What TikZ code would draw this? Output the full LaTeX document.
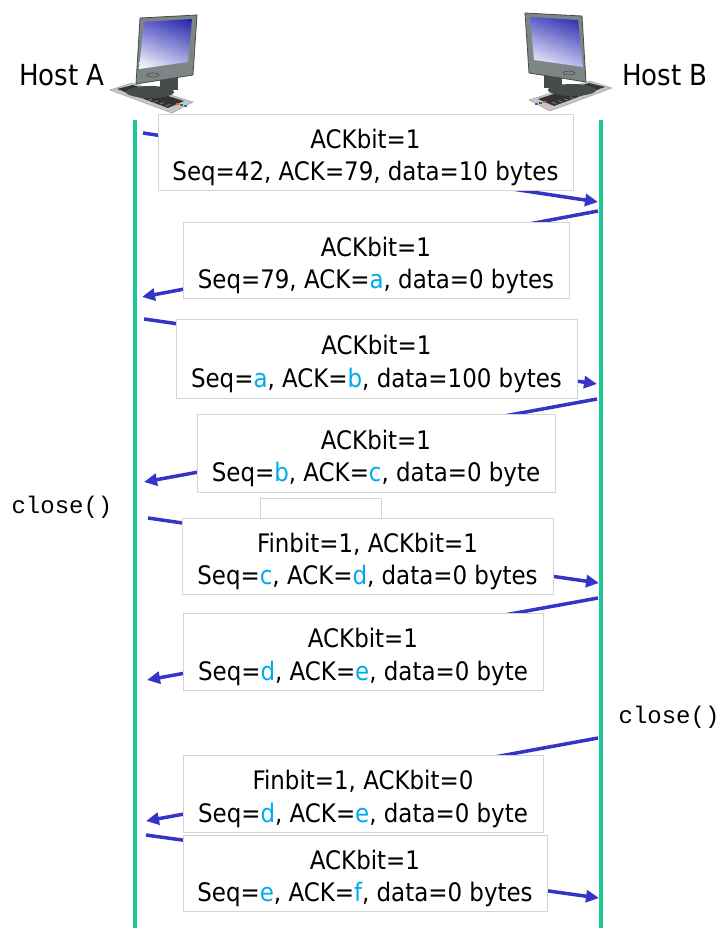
\documentclass[tikz,border=0pt]{standalone}
\usepackage{fontspec}
\setmainfont{DejaVu Sans Condensed}
\newfontfamily\callfont{Liberation Mono}
\usetikzlibrary{arrows.meta,calc,shadings}

\definecolor{lifegreen}{RGB}{28,200,150}
\definecolor{msgblue}{RGB}{52,52,200}
\definecolor{varcyan}{RGB}{0,170,240}
\definecolor{boxedge}{RGB}{212,212,212}
\definecolor{framegray}{RGB}{125,133,133}
\definecolor{framedark}{RGB}{70,76,76}
\definecolor{scrdark}{RGB}{35,35,165}
\definecolor{scrmid}{RGB}{95,95,205}
\definecolor{scrlight}{RGB}{185,185,235}
\newcommand{\cv}[1]{\textcolor{varcyan}{#1}}
% two-line segment text, set a little lower in its box
\newcommand{\seg}[2]{\rule{0pt}{30pt}#1\\#2}

\tikzset{
  x=1pt, y=-1pt,
  lifeline/.style={draw=lifegreen, line width=4pt},
  msg/.style={draw=msgblue, line width=3.5pt, -{Triangle[length=13pt,width=12pt]}},
  segbox/.style={draw=boxedge, line width=0.9pt, fill=white, align=center,
    inner sep=0pt, font=\fontsize{25.5}{32.5}\selectfont},
  hostlabel/.style={font=\fontsize{29}{32}\selectfont, inner sep=0pt},
  calllabel/.style={font=\callfont\fontsize{24}{28}\selectfont, inner sep=0pt},
  computer/.pic={
    % keyboard
    \fill[gray!45, draw=gray!70, line width=0.6pt] (0,76) -- (22,69) -- (83,88) -- (62,99) -- cycle;
    \fill[black!80] (7,75) -- (23,71) -- (74,87) -- (58,94) -- cycle;
    \foreach \k in {0,...,9}{
      \draw[gray!60, line width=0.4pt] ($(12,76)+(\k*6,\k*1.8)$) -- ++(-4,1.3);
    }
    \fill[red!70] (66,91) rectangle ++(3,-2);
    \fill[green!60!black] (70,92) rectangle ++(3,-2);
    \fill[blue!70] (74,93) rectangle ++(3,-2);
    % stand
    \fill[framedark] (40,78) ellipse[x radius=24pt, y radius=6pt];
    \fill[framedark] (50,64) rectangle (68,76);
    % monitor
    \fill[framegray, draw=framedark, line width=0.8pt] (30,4) -- (87,1) -- (83,61) -- (26,70) -- cycle;
    \shade[upper left=scrmid, upper right=scrdark, lower left=white, lower right=scrlight]
      (34,8) -- (82,5) -- (78,48) -- (29,55) -- cycle;
    \draw[framedark, line width=0.6pt] (43,61) ellipse[x radius=6pt, y radius=2pt];
  }
}

\begin{document}
\begin{tikzpicture}
\useasboundingbox (0,0) rectangle (722,928);

% hosts
\pic at (110,14) {computer};
\pic[xscale=-1] at (612,12) {computer};
\node[hostlabel] (hostA) at (62,75) {Host A};
\node[hostlabel] (hostB) at (665,75) {Host B};

% lifelines
\coordinate (Atop) at (135,120);
\coordinate (Abot) at (135,928);
\coordinate (Btop) at (601,120);
\coordinate (Bbot) at (601,928);
\draw[lifeline] (Atop) -- (Abot);
\draw[lifeline] (Btop) -- (Bbot);

% message end points
\coordinate (a1) at (143,133);  \coordinate (b1) at (598,202);
\coordinate (b2) at (598,211);  \coordinate (a2) at (142,297);
\coordinate (a3) at (144,319);  \coordinate (b3) at (597,384);
\coordinate (b4) at (597,399);  \coordinate (a4) at (144,482);
\coordinate (a5) at (148,518);  \coordinate (b5) at (599,583);
\coordinate (b6) at (598,598);  \coordinate (a6) at (147,680);
\coordinate (b7) at (598,738);  \coordinate (a7) at (146,821);
\coordinate (a8) at (146,835);  \coordinate (b8) at (599,898);

\draw[msg] (a1) -- (b1);
\draw[msg] (b2) -- (a2);
\draw[msg] (a3) -- (b3);
\draw[msg] (b4) -- (a4);
\draw[msg] (a5) -- (b5);
\draw[msg] (b6) -- (a6);
\draw[msg] (b7) -- (a7);
\draw[msg] (a8) -- (b8);

% segment labels
\node[segbox, minimum width=415pt, minimum height=76pt] (s1) at (365.5,152)
  {\seg{ACKbit=1}{Seq=42, ACK=79, data=10 bytes}};
\node[segbox, minimum width=386pt, minimum height=76pt] (s2) at (376,260)
  {\seg{ACKbit=1}{Seq=79, ACK=\cv{a}, data=0 bytes}};
\node[segbox, minimum width=401pt, minimum height=79pt] (s3) at (376.5,358.5)
  {\seg{ACKbit=1}{Seq=\cv{a}, ACK=\cv{b}, data=100 bytes}};
\node[segbox, minimum width=358pt, minimum height=78pt] (s4) at (376,453)
  {\seg{ACKbit=1}{Seq=\cv{b}, ACK=\cv{c}, data=0 byte}};
\node[segbox, minimum width=121pt, minimum height=32pt] (blank) at (320.5,514) {};
\node[segbox, minimum width=371pt, minimum height=76pt] (s5) at (367.5,556)
  {\seg{Finbit=1, ACKbit=1}{Seq=\cv{c}, ACK=\cv{d}, data=0 bytes}};
\node[segbox, minimum width=360pt, minimum height=77pt] (s6) at (363,651.5)
  {\seg{ACKbit=1}{Seq=\cv{d}, ACK=\cv{e}, data=0 byte}};
\node[segbox, minimum width=360pt, minimum height=77pt] (s7) at (363,793.5)
  {\seg{Finbit=1, ACKbit=0}{Seq=\cv{d}, ACK=\cv{e}, data=0 byte}};
\node[segbox, minimum width=364pt, minimum height=76pt] (s8) at (365,873)
  {\seg{ACKbit=1}{Seq=\cv{e}, ACK=\cv{f}, data=0 bytes}};

% application calls
\node[calllabel] (closeA) at (62,507) {close()};
\node[calllabel] (closeB) at (669,717) {close()};
\end{tikzpicture}
\end{document}
